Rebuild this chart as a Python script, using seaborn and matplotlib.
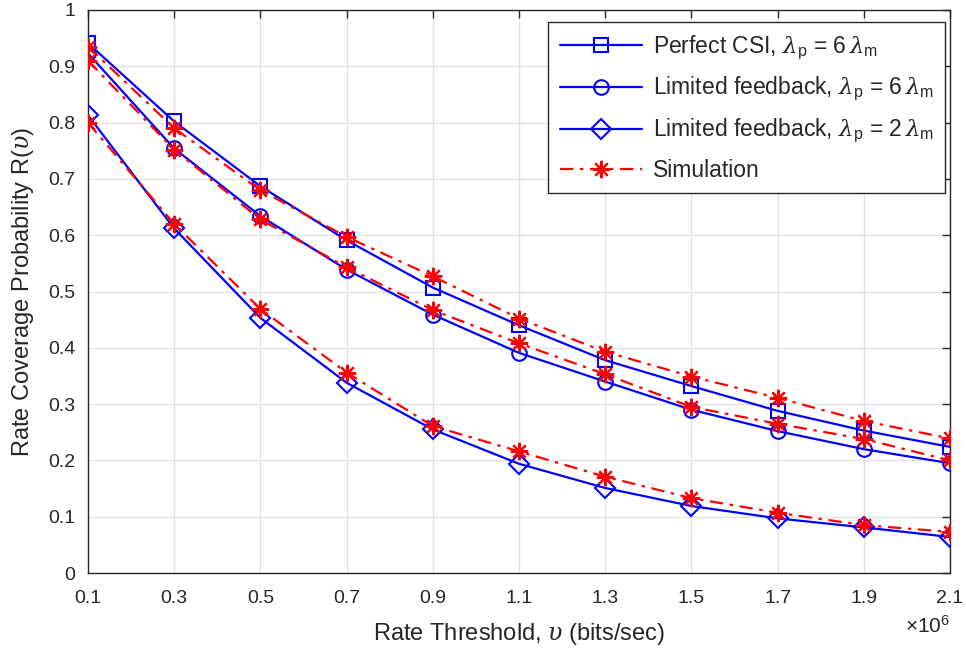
import matplotlib
matplotlib.use("Agg")
import matplotlib.pyplot as plt
import seaborn as sns
import pandas as pd

# ---- data (x in units of 10^6 bits/sec) ----
rate_threshold = [0.1, 0.3, 0.5, 0.7, 0.9, 1.1, 1.3, 1.5, 1.7, 1.9, 2.1]
perfect_csi_6 = [0.941, 0.802, 0.687, 0.591, 0.507, 0.440, 0.378, 0.332, 0.288, 0.253, 0.224]
limited_fb_6 = [0.923, 0.754, 0.634, 0.539, 0.459, 0.391, 0.340, 0.290, 0.252, 0.220, 0.195]
limited_fb_2 = [0.813, 0.612, 0.453, 0.338, 0.255, 0.194, 0.151, 0.119, 0.097, 0.081, 0.064]
sim_perfect_6 = [0.935, 0.790, 0.680, 0.597, 0.527, 0.452, 0.393, 0.349, 0.311, 0.270, 0.239]
sim_limited_6 = [0.910, 0.752, 0.628, 0.543, 0.467, 0.408, 0.353, 0.295, 0.265, 0.238, 0.200]
sim_limited_2 = [0.800, 0.620, 0.469, 0.356, 0.261, 0.216, 0.171, 0.133, 0.107, 0.085, 0.073]
x_tick_labels = ["0.1", "0.3", "0.5", "0.7", "0.9", "1.1", "1.3", "1.5", "1.7", "1.9", "2.1"]
y_ticks = [0, 0.1, 0.2, 0.3, 0.4, 0.5, 0.6, 0.7, 0.8, 0.9, 1.0]
y_tick_labels = ["0", "0.1", "0.2", "0.3", "0.4", "0.5", "0.6", "0.7", "0.8", "0.9", "1"]

labels = [
    r"Perfect CSI, $\lambda_{\mathrm{p}}$ = 6$\,\lambda_{\mathrm{m}}$",
    r"Limited feedback, $\lambda_{\mathrm{p}}$ = 6$\,\lambda_{\mathrm{m}}$",
    r"Limited feedback, $\lambda_{\mathrm{p}}$ = 2$\,\lambda_{\mathrm{m}}$",
    "Simulation",
]

sns.set_style("white")
plt.rcParams["font.family"] = ["Liberation Sans", "DejaVu Sans"]
plt.rcParams["mathtext.fontset"] = "custom"
plt.rcParams["mathtext.rm"] = "Liberation Sans"
plt.rcParams["mathtext.it"] = "DejaVu Serif:italic"
plt.rcParams["mathtext.bf"] = "Liberation Sans:bold"

fig = plt.figure(figsize=(9.66, 6.5), dpi=100)
ax = fig.add_axes([88 / 966, 77 / 650, (950 - 88) / 966, (573 - 10) / 650])

blue = "#0000ff"
red = "#ff0000"
lw = 1.6
ms = 10.5

analysis = [(perfect_csi_6, "s", labels[0]), (limited_fb_6, "o", labels[1]), (limited_fb_2, "D", labels[2])]
sims = [sim_perfect_6, sim_limited_6, sim_limited_2]

for ys, mk, lab in analysis:
    df = pd.DataFrame({"x": rate_threshold, "y": ys})
    sns.lineplot(data=df, x="x", y="y", ax=ax, color=blue, lw=lw, marker=mk,
                 markersize=ms if mk != "D" else ms - 0.5, markerfacecolor="none",
                 markeredgecolor=blue, markeredgewidth=1.5, label=lab, zorder=3)
for i, ys in enumerate(sims):
    df = pd.DataFrame({"x": rate_threshold, "y": ys})
    sns.lineplot(data=df, x="x", y="y", ax=ax, color=red, lw=lw, marker=(8, 2, 0),
                 markersize=12.5, markeredgecolor=red, markeredgewidth=1.6,
                 dashes=False, linestyle=(0, (6, 3, 1.5, 3)),
                 label=labels[3] if i == 0 else None, zorder=4)

ax.set_xlim(0.1, 2.1)
ax.set_ylim(0, 1)
ax.set_xticks(rate_threshold)
ax.set_xticklabels(x_tick_labels)
ax.set_yticks(y_ticks)
ax.set_yticklabels(y_tick_labels)
ax.grid(True, color="#e3e3e3", lw=1.0)
ax.set_axisbelow(True)
for s in ax.spines.values():
    s.set_color("#262626")
    s.set_linewidth(1.0)
ax.tick_params(direction="in", length=6, width=1.0, color="#262626",
               labelsize=14, labelcolor="#262626", top=True, right=True)
ax.tick_params(axis="x", pad=12)
ax.tick_params(axis="y", pad=9)
ax.set_xlabel(r"Rate Threshold, $\upsilon$ (bits/sec)", fontsize=17, color="#262626", labelpad=10)
ax.set_ylabel(r"Rate Coverage Probability R($\upsilon$)", fontsize=17, color="#262626", labelpad=9)
fig.text(950 / 966, 1 - 626 / 650, r"$\times$10$^{6}$", ha="right", va="center", fontsize=15, color="#262626")

leg = ax.legend(loc="upper right", bbox_to_anchor=(1.0 - 5 / 862, 1.0 - 12 / 563),
                fontsize=16.5, frameon=True, fancybox=False, framealpha=1,
                edgecolor="#262626", handlelength=3.6, handletextpad=0.45,
                borderpad=0.5, labelspacing=0.6, borderaxespad=0)
leg.get_frame().set_linewidth(1.0)

fig.savefig("out.png", dpi=100)
